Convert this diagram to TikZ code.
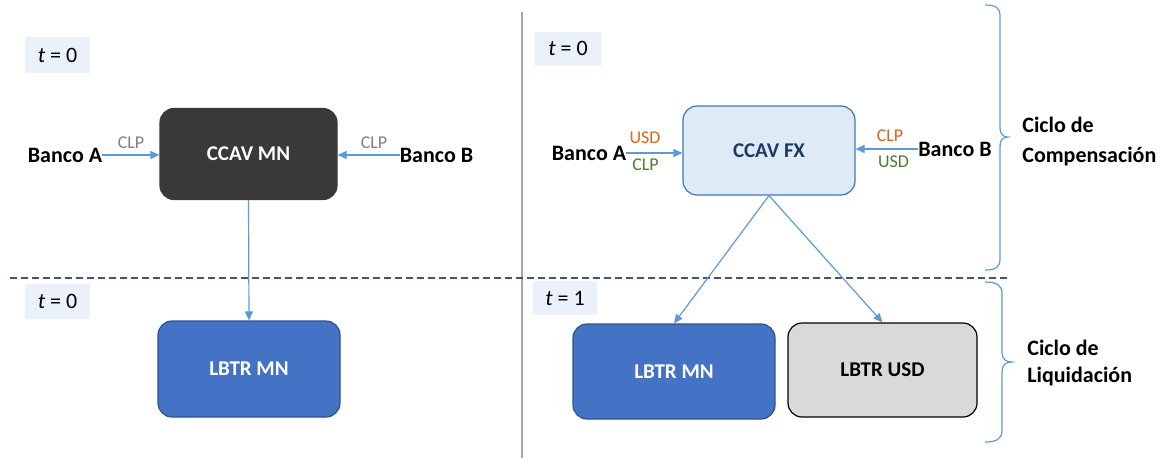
\documentclass[tikz,border=0pt]{standalone}
\usepackage{fontspec}
\setmainfont{Carlito}
\usetikzlibrary{arrows.meta}

\definecolor{flecha}{HTML}{5B9BD5}
\definecolor{oscuro}{HTML}{3B3838}
\definecolor{azulmn}{HTML}{4472C4}
\definecolor{bordemn}{HTML}{2F528F}
\definecolor{celeste}{HTML}{DEEBF7}
\definecolor{bordefx}{HTML}{3C78B4}
\definecolor{textofx}{HTML}{1F3864}
\definecolor{grisusd}{HTML}{D9D9D9}
\definecolor{tfondo}{HTML}{EAF1FA}
\definecolor{corte}{HTML}{44546A}
\definecolor{divisor}{HTML}{A6A6A6}
\definecolor{naranjo}{HTML}{D5671F}
\definecolor{verde}{HTML}{4F7A34}
\definecolor{grisclp}{HTML}{808080}

\tikzset{every picture/.style={line width=0.75pt}}
\tikzset{
  caja/.style={rounded corners=14pt,inner sep=0pt,line width=1.2pt,
    font=\fontsize{21}{25}\selectfont\bfseries},
  tiempo/.style={fill=tfondo,inner sep=0pt,font=\fontsize{22}{26}\selectfont},
  banco/.style={inner sep=0pt,font=\fontsize{22}{26}\selectfont\bfseries},
  moneda/.style={inner sep=0pt,font=\fontsize{18}{20}\selectfont},
  ciclo/.style={inner sep=0pt,anchor=west,align=left,font=\bfseries},
  flujo/.style={draw=flecha,line width=1.2pt,-{Triangle[length=9pt,width=8pt]}},
  llave/.style={draw=flecha,line width=1.2pt},
}

\begin{document}
\begin{tikzpicture}[x=1pt,y=-1pt]
				\useasboundingbox (0,0) rectangle (1172,458);
				% divisores
				\draw[divisor,line width=2pt] (522,12)--(522,458);
				\draw[corte,line width=2.2pt,dash pattern=on 7pt off 4pt] (10,278)--(1008,278);
				% tiempos
				\node[tiempo,minimum width=65pt,minimum height=36pt] (t0a) at (57.5,55) {\textit{t} = 0};
				\node[tiempo,minimum width=66pt,minimum height=34pt] (t0b) at (568,48.5) {\textit{t} = 0};
				\node[tiempo,minimum width=65pt,minimum height=35pt] (t0c) at (57.5,301) {\textit{t} = 0};
				\node[tiempo,minimum width=64pt,minimum height=34pt] (t1) at (565,298) {\textit{t} = 1};
				% sistema MN
				\node[caja,fill=oscuro,draw=oscuro,text=white,minimum width=177pt,minimum height=91pt] (ccavmn) at (248.5,154) {CCAV MN};
				\node[caja,fill=azulmn,draw=bordemn,text=white,minimum width=182pt,minimum height=96pt] (lbtrmnl) at (249,369) {LBTR MN};
				\node[banco] (bancoal) at (65,155) {Banco A};
				\node[banco] (bancobl) at (436.5,155) {Banco B};
				\node[moneda,text=grisclp] (clpal) at (131,143) {CLP};
				\node[moneda,text=grisclp] (clpbl) at (374,143) {CLP};
				\draw[flujo] (bancoal.east)--(bancoal.east -| ccavmn.west);
				\draw[flujo] (bancobl.west)--(bancobl.west -| ccavmn.east);
				\draw[flujo] (ccavmn.south)--(lbtrmnl.north);
				% sistema FX
				\node[caja,fill=celeste,draw=bordefx,text=textofx,minimum width=172pt,minimum height=89pt] (ccavfx) at (769,150.5) {CCAV FX};
				\node[caja,fill=azulmn,draw=bordemn,text=white,minimum width=202pt,minimum height=95pt] (lbtrmnr) at (674,371.5) {LBTR MN};
				\node[caja,fill=grisusd,draw=black,minimum width=189pt,minimum height=94pt] (lbtrusd) at (882.5,370) {LBTR USD};
				\node[banco] (bancoar) at (589,153) {Banco A};
				\node[banco] (bancobr) at (955,149) {Banco B};
				\node[moneda,text=naranjo] (usdar) at (645,138) {USD};
				\node[moneda,text=verde] (clpar) at (645.5,165) {CLP};
				\node[moneda,text=naranjo] (clpbr) at (890,136) {CLP};
				\node[moneda,text=verde] (usdbr) at (893.5,162) {USD};
				\draw[flujo] (bancoar.east)--(bancoar.east -| ccavfx.west);
				\draw[flujo] (bancobr.west)--(bancobr.west -| ccavfx.east);
				\draw[flujo] (ccavfx.south)--(lbtrmnr.north);
				\draw[flujo] (ccavfx.south)--(lbtrusd.north);
				% llaves
				\draw[llave] (985,5) .. controls (996,5) and (1000,8) .. (1000,16) -- (1000,128)
					.. controls (1000,134) and (1003,137) .. (1008,137)
					.. controls (1003,137) and (1000,140) .. (1000,146) -- (1000,259)
					.. controls (1000,267) and (996,270) .. (985,270);
				\draw[llave] (985,282) .. controls (996,282) and (1002,285) .. (1002,293) -- (1002,353)
					.. controls (1002,359) and (1006,362) .. (1012,362)
					.. controls (1006,362) and (1002,365) .. (1002,371) -- (1002,431)
					.. controls (1002,439) and (996,442) .. (985,442);
				\node[ciclo,font=\fontsize{22}{30}\selectfont\bfseries] (compensacion) at (1022,142) {Ciclo de\\Compensación};
				\node[ciclo,font=\fontsize{22}{27}\selectfont\bfseries] (liquidacion) at (1027,363.5) {Ciclo de\\Liquidación};
			\end{tikzpicture}
\end{document}
